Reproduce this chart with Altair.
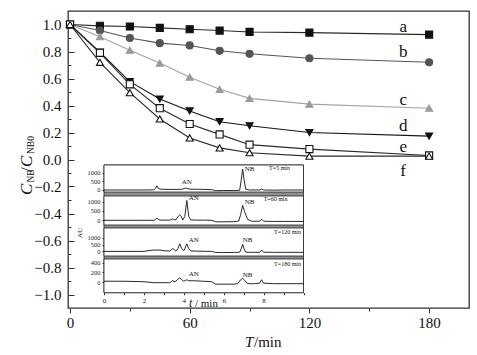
import altair as alt
import pandas as pd

FONT = "Liberation Serif"

# ---------------- main chart data ----------------
TIME = [0, 15, 30, 45, 60, 75, 90, 120, 180]
SERIES = ["a", "b", "c", "d", "e", "f"]
A = [1.0, 0.99, 0.985, 0.975, 0.965, 0.955, 0.945, 0.94, 0.925]
B = [1.0, 0.955, 0.90, 0.862, 0.845, 0.805, 0.783, 0.75, 0.72]
C = [1.0, 0.91, 0.81, 0.714, 0.61, 0.52, 0.453, 0.41, 0.38]
D = [1.0, 0.795, 0.577, 0.448, 0.36, 0.28, 0.25, 0.20, 0.173]
E = [1.0, 0.79, 0.557, 0.38, 0.263, 0.186, 0.11, 0.077, 0.03]
F = [1.0, 0.72, 0.495, 0.30, 0.16, 0.086, 0.05, 0.025, 0.025]

LINE_COLORS = ["#2a2a2a", "#555555", "#a3a3a3", "#151515", "#2a2a2a", "#2a2a2a"]
SHAPES = ["square", "circle", "triangle-up", "triangle-down", "square", "triangle-up"]
FILLS = ["#111111", "#555555", "#9a9a9a", "#111111", "#ffffff", "#ffffff"]
STROKES = ["#111111", "#555555", "#9a9a9a", "#111111", "#111111", "#111111"]

LABEL_T = [167, 167, 167, 167, 167, 167]
LABEL_C = [0.98, 0.80, 0.44, 0.25, 0.095, -0.085]

X_TICKS = [0, 30, 60, 90, 120, 150, 180]
Y_TICKS = [-1.0, -0.9, -0.8, -0.7, -0.6, -0.5, -0.4, -0.3, -0.2, -0.1, 0.0,
           0.1, 0.2, 0.3, 0.4, 0.5, 0.6, 0.7, 0.8, 0.9, 1.0]

# ---------------- inset chromatogram data ----------------
P1_T = [0, 0.5, 1.0, 1.5, 2.0, 2.5, 2.6, 2.65, 2.7, 2.8, 3.0, 3.5, 3.9, 4.05, 4.1, 4.15, 4.3, 4.8, 5.4, 5.6,
        6.0, 6.5, 6.8, 6.88, 6.95, 7.02, 7.1, 7.3, 7.8, 7.9, 8.0, 8.5, 9.0, 9.5, 10]
P1_V = [0, 0, 0, 0, 0, 10, 120, 240, 120, 50, 40, 30, 40, 90, 110, 90, 50, 40, 20, -40,
        -30, -30, -20, 600, 1200, 600, 50, 0, 0, 50, 0, -10, 0, 0, 0]

P2_T = [0, 1.0, 2.0, 2.5, 2.6, 2.65, 2.7, 2.8, 3.3, 3.4, 3.45, 3.5, 3.6, 3.75, 3.8, 3.85, 3.95, 4.05, 4.15,
        4.25, 4.35, 4.6, 5.0, 5.4, 5.6, 6.0, 6.5, 6.75, 6.85, 6.95, 7.05, 7.2, 7.4, 7.8, 7.9, 8.0, 8.5, 9.0, 10]
P2_V = [0, 0, 0, 0, 60, 120, 60, 10, 10, 50, 80, 40, 20, 250, 300, 250, 20, 200, 1050,
        200, 20, 10, 10, 0, -80, -80, -70, -40, 300, 800, 450, 50, -50, -50, 60, -50, -60, -60, -60]

P3_T = [0, 1.0, 2.0, 2.2, 2.5, 2.8, 3.0, 3.3, 3.4, 3.45, 3.5, 3.6, 3.7, 3.8, 3.9, 4.0, 4.05, 4.15, 4.25,
        4.35, 4.6, 5.0, 5.4, 5.6, 6.0, 6.5, 6.8, 6.88, 6.95, 7.02, 7.1, 7.3, 7.8, 7.9, 8.0, 8.5, 9.0, 10]
P3_V = [0, 0, 0, 50, 100, 100, 50, 20, 150, 220, 150, 20, 200, 560, 200, 50, 200, 560, 200,
        40, 20, 10, 0, -80, -80, -80, -60, 200, 520, 200, -50, -70, -70, 100, -60, -70, -70, -70]

P4_T = [0, 1.0, 2.0, 2.5, 3.0, 3.3, 3.4, 3.45, 3.5, 3.6, 3.7, 3.8, 3.9, 4.0, 4.1, 4.15, 4.25, 4.5, 5.0,
        5.4, 5.6, 6.0, 6.5, 6.7, 6.85, 6.95, 7.05, 7.2, 7.5, 7.8, 7.9, 8.0, 8.5, 9.0, 10]
P4_V = [20, 20, 10, -10, -10, -10, 20, 40, 10, 20, 60, 90, 50, 20, 40, 50, 30, 30, 20,
        10, -40, -40, -40, -30, 50, 80, 40, -30, -30, -20, 50, -20, -30, -30, -30]

P1_LAB = ([4.15, 7.3, 8.8], [480, 1210, 1270], ["AN", "NB", "T=5 min"])
P2_LAB = ([4.5, 7.3, 8.6], [1180, 1000, 1130], ["AN", "NB", "T=60 min"])
P3_LAB = ([4.5, 7.2, 9.2], [840, 840, 1450], ["AN", "NB", "T=120 min"])
P4_LAB = ([4.5, 7.2, 9.2], [170, 145, 370], ["AN", "NB", "T=180 min"])

P1_DOM, P1_RNG, P1_TICKS = [-116, 1445], [181, 154], [0, 500, 1000]
P2_DOM, P2_RNG, P2_TICKS = [-250, 1293], [214, 185], [0, 500, 1000]
P3_DOM, P3_RNG, P3_TICKS = [-341, 1733], [245, 217], [0, 500, 1000]
P4_DOM, P4_RNG, P4_TICKS = [-215, 476], [281.7, 248], [0, 200, 400]

INSET_T_DOMAIN = [0, 10]
INSET_X_RANGE = [36, 235.5]
INSET_T_TICKS = [0, 1, 2, 3, 4, 5, 6, 7, 8, 9, 10]

W, H = 401, 297

# ---------------- main chart ----------------
rows = []
for s, vals in zip(SERIES, [A, B, C, D, E, F]):
    for t, v in zip(TIME, vals):
        rows.append({"series": s, "T": t, "C": v})
main_df = pd.DataFrame(rows)

x_scale = alt.Scale(domain=[-1, 200], nice=False, zero=False)
y_scale = alt.Scale(domain=[-1.1, 1.1], nice=False, zero=False)

x_main = alt.X(
    "T:Q", scale=x_scale,
    axis=alt.Axis(
        values=X_TICKS, title=None, grid=False, domain=False,
        labelExpr="datum.value % 60 == 0 ? datum.label : ''",
        tickSize={"condition": {"test": "datum.value % 60 == 0", "value": 5}, "value": 3},
        tickColor="#333333", labelFont=FONT, labelFontSize=15, labelColor="#111111",
        labelPadding=2, labelFlush=False, labelOverlap=False,
    ),
)
y_left = alt.Y(
    "C:Q", scale=y_scale,
    axis=alt.Axis(
        orient="left", values=Y_TICKS, format=".1f", title=None, grid=False, domain=False, ticks=False,
        labelExpr="abs(round(datum.value*10)) % 2 == 0 ? datum.label : ''",
        labelFont=FONT, labelFontSize=15, labelColor="#111111", labelPadding=7,
        labelFlush=False, labelOverlap=False,
    ),
)
y_tick = alt.Y(
    "C:Q", scale=y_scale,
    axis=alt.Axis(
        orient="right", offset=-W, values=Y_TICKS, labels=False, title=None, grid=False, domain=False,
        tickColor="#333333",
        tickSize={"condition": {"test": "abs(round(datum.value*10)) % 2 == 0", "value": 6}, "value": 3},
    ),
)
y_none = alt.Y("C:Q", scale=y_scale, axis=None)

lines = alt.Chart(main_df).mark_line(strokeWidth=1.1).encode(
    x=x_main, y=y_left,
    color=alt.Color("series:N", scale=alt.Scale(domain=SERIES, range=LINE_COLORS), legend=None),
    detail="series:N",
)
points = alt.Chart(main_df).mark_point(filled=True, size=50, opacity=1, strokeWidth=1.1).encode(
    x=x_main, y=y_tick,
    shape=alt.Shape("series:N", scale=alt.Scale(domain=SERIES, range=SHAPES), legend=None),
    fill=alt.Fill("series:N", scale=alt.Scale(domain=SERIES, range=FILLS), legend=None),
    stroke=alt.Stroke("series:N", scale=alt.Scale(domain=SERIES, range=STROKES), legend=None),
)
lab_df = pd.DataFrame({"T": LABEL_T, "C": LABEL_C, "s": SERIES})
series_labels = alt.Chart(lab_df).mark_text(
    font=FONT, fontSize=17, color="#111111", baseline="middle", align="center"
).encode(x=x_main, y=y_none, text="s:N")


def piece(txt, x, y, size, italic, angle=None):
    kw = dict(font=FONT, fontSize=size, color="#111111", align="left", baseline="alphabetic")
    if italic:
        kw["fontStyle"] = "italic"
    if angle is not None:
        kw["angle"] = angle
    return alt.Chart(pd.DataFrame({"s": [txt]})).mark_text(**kw).encode(
        x=alt.value(x), y=alt.value(y), text="s:N"
    )


ytitle = [
    piece("C", -36.5, 184, 17, True, 270),
    piece("NB", -34.5, 171.5, 9.5, False, 270),
    piece("/", -36.5, 161, 17, False, 270),
    piece("C", -36.5, 156, 17, True, 270),
    piece("NB0", -34.5, 143, 9.5, False, 270),
]
xtitle = [
    piece("T", 177, 335.5, 15, True),
    piece("/min", 186, 335.5, 15, False),
]

main = alt.layer(lines, points, series_labels, *ytitle, *xtitle).resolve_axis(y="independent")

# ---------------- inset ----------------
x_inset_scale = alt.Scale(domain=INSET_T_DOMAIN, range=INSET_X_RANGE, nice=False, zero=False)

bg = alt.Chart(pd.DataFrame({"t": [0], "t2": [10], "v": [0], "v2": [1]})).mark_rect(
    fill="#8f8f8f", stroke="#222222", strokeWidth=0.8
).encode(
    x=alt.X("t:Q", scale=x_inset_scale, axis=None), x2="t2:Q",
    y=alt.Y("v:Q", scale=alt.Scale(domain=[0, 1], range=[P4_RNG[0], P1_RNG[1]], nice=False, zero=False), axis=None),
    y2="v2:Q",
)


def make_panel(t_vals, v_vals, dom, rng, ticks, labs, bottom):
    trace = pd.DataFrame({"t": t_vals, "v": v_vals})
    frame = pd.DataFrame({"t": [INSET_T_DOMAIN[0]], "t2": [INSET_T_DOMAIN[1]], "v": [dom[0]], "v2": [dom[1]]})
    lab = pd.DataFrame({"t": labs[0], "v": labs[1], "s": labs[2],
                        "fs": [7, 7, 6]})
    if bottom:
        x = alt.X("t:Q", scale=x_inset_scale, axis=alt.Axis(
            orient="bottom", offset=-(H - rng[0]), values=INSET_T_TICKS, title=None, grid=False,
            domain=False, labelExpr="(datum.value % 2 == 0 && datum.value < 10) ? datum.label : ''",
            tickSize=2, tickColor="#222222", labelFont=FONT, labelFontSize=7, labelColor="#222222",
            labelPadding=2, labelFlush=False, labelOverlap=False))
    else:
        x = alt.X("t:Q", scale=x_inset_scale, axis=None)
    y = alt.Y("v:Q", scale=alt.Scale(domain=dom, range=rng, nice=False, zero=False), axis=alt.Axis(
        orient="left", offset=-INSET_X_RANGE[0], values=ticks, format="d", title=None, grid=False,
        domain=False, tickSize=2, tickColor="#222222", labelFont=FONT, labelFontSize=6.5,
        labelColor="#222222", labelPadding=2, labelFlush=False, labelOverlap=False))
    fr = alt.Chart(frame).mark_rect(fill="white", stroke="#222222", strokeWidth=0.8).encode(
        x=x, x2="t2:Q", y=y, y2="v2:Q")
    ln = alt.Chart(trace).mark_line(color="#111111", strokeWidth=0.9).encode(x=x, y=y)
    tx = alt.Chart(lab).mark_text(font=FONT, color="#111111", baseline="middle", align="center").encode(
        x=x, y=y, text="s:N", size=alt.Size("fs:Q", scale=None, legend=None))
    return alt.layer(fr, ln, tx)


p1 = make_panel(P1_T, P1_V, P1_DOM, P1_RNG, P1_TICKS, P1_LAB, False)
p2 = make_panel(P2_T, P2_V, P2_DOM, P2_RNG, P2_TICKS, P2_LAB, False)
p3 = make_panel(P3_T, P3_V, P3_DOM, P3_RNG, P3_TICKS, P3_LAB, False)
p4 = make_panel(P4_T, P4_V, P4_DOM, P4_RNG, P4_TICKS, P4_LAB, True)

inset_titles = [
    piece("t", 121, 296, 12, True),
    piece("/ min", 127, 296, 11, False),
    piece("AU", 14, 227, 7, False, 270),
]

chart = alt.layer(main, bg, p1, p2, p3, p4, *inset_titles).resolve_scale(
    x="independent", y="independent"
).properties(
    width=W, height=H,
    autosize=alt.AutoSizeParams(type="none"),
    padding={"left": 68, "top": 11, "right": 8, "bottom": 47},
    background="white",
).configure_view(stroke="#333333", strokeWidth=1.3)

chart.save("out.html", embed_options={"renderer": "svg", "actions": False})
